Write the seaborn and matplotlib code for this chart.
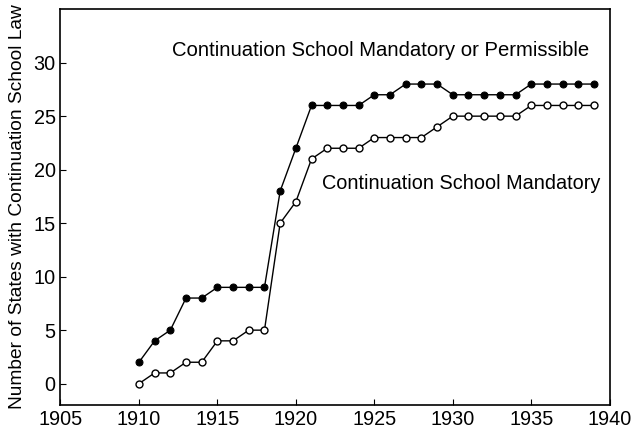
import pandas as pd
import seaborn as sns
import matplotlib.pyplot as plt

years = list(range(1910, 1940))
mandatory_or_permissible = [2, 4, 5, 8, 8, 9, 9, 9, 9, 18, 22, 26, 26, 26, 26,
                            27, 27, 28, 28, 28, 27, 27, 27, 27, 27, 28, 28, 28, 28, 28]
mandatory = [0, 1, 1, 2, 2, 4, 4, 5, 5, 15, 17, 21, 22, 22, 22,
             23, 23, 23, 23, 24, 25, 25, 25, 25, 25, 26, 26, 26, 26, 26]
x_ticks = [1905, 1910, 1915, 1920, 1925, 1930, 1935, 1940]
y_ticks = [0, 5, 10, 15, 20, 25, 30]

df = pd.DataFrame({'year': years, 'mp': mandatory_or_permissible, 'm': mandatory})

sns.set_style('ticks')
plt.rcParams['font.family'] = ['Liberation Sans', 'DejaVu Sans']
plt.rcParams['text.color'] = 'black'

fig = plt.figure(figsize=(6.32, 4.36), dpi=100)
ax = fig.add_axes([0.0957, 0.071, 0.869, 0.908])

sns.lineplot(data=df, x='year', y='mp', ax=ax, color='black', linewidth=1,
             marker='o', markersize=5, markerfacecolor='black', markeredgecolor='black')
sns.lineplot(data=df, x='year', y='m', ax=ax, color='black', linewidth=1,
             marker='o', markersize=5, markerfacecolor='white', markeredgecolor='black',
             markeredgewidth=1)

ax.text(1912.1, 31.1, 'Continuation School Mandatory or Permissible',
        fontsize=14.6, va='center', ha='left', color='black')
ax.text(1921.65, 18.7, 'Continuation School Mandatory',
        fontsize=14.3, va='center', ha='left', color='black')

ax.set_xlim(1905, 1940)
ax.set_ylim(-2, 35)
ax.set_xticks(x_ticks)
ax.set_yticks(y_ticks)
ax.tick_params(direction='in', length=4, width=0.8, labelsize=14.3, colors='black')
ax.set_xlabel('')
ax.set_ylabel('Number of States with Continuation School Law', fontsize=13.8, color='black')
ax.yaxis.set_label_coords(-0.063, 0.5)
for s in ax.spines.values():
    s.set_linewidth(1.2)
    s.set_color('black')

fig.savefig('out.png', dpi=100)
